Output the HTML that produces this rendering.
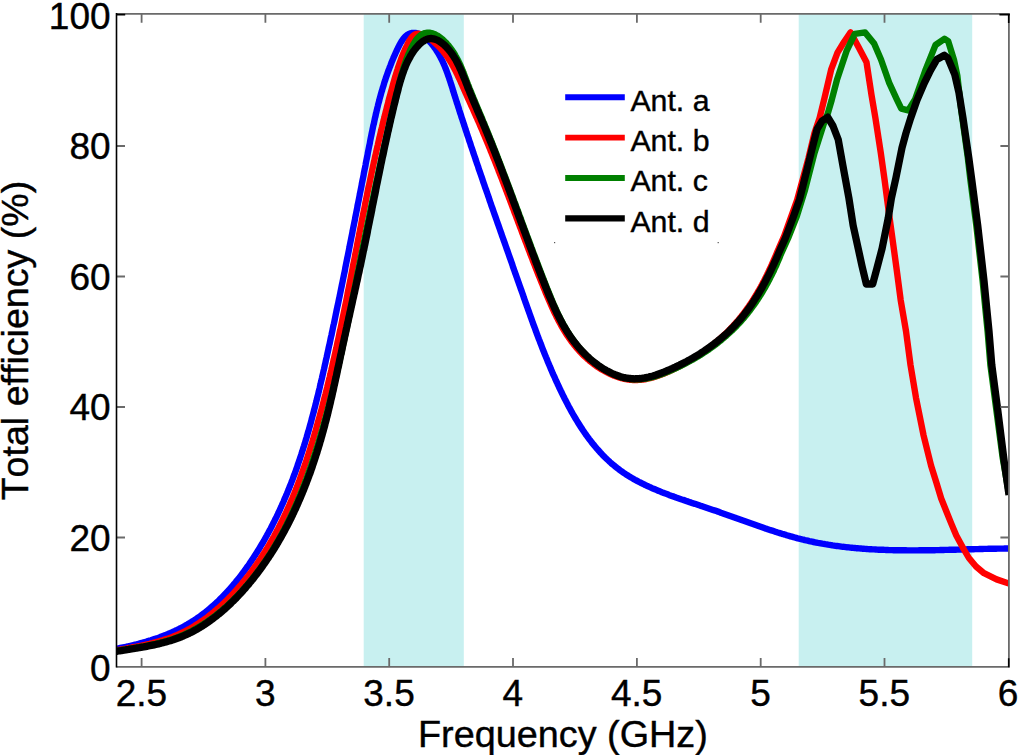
<!DOCTYPE html>
<html lang="en"><head><meta charset="utf-8"><title>Total efficiency vs Frequency</title>
<style>html,body{margin:0;padding:0;background:#fff;overflow:hidden}svg{display:block}text{font-family:"Liberation Sans",Arial,sans-serif;font-variant-ligatures:none;font-kerning:none}</style>
</head><body>
<svg width="1018" height="755" viewBox="0 0 1018 755">
<rect width="1018" height="755" fill="#ffffff"/>
<rect x="363.7" y="14.2" width="100.1" height="652.4" fill="#c8f0f0"/>
<rect x="798.7" y="14.2" width="173.5" height="652.4" fill="#c8f0f0"/>
<defs><clipPath id="c"><rect x="116.6" y="14.2" width="892.0" height="652.4"/></clipPath></defs>
<g clip-path="url(#c)" fill="none" stroke-linejoin="round" stroke-linecap="butt">
<path d="M92.0 652.6 L93.5 652.4 L95.0 652.2 L96.5 652.0 L97.9 651.8 L99.4 651.6 L100.9 651.3 L102.4 651.1 L103.9 650.9 L105.4 650.7 L106.9 650.4 L108.3 650.2 L109.8 649.9 L111.3 649.7 L112.8 649.4 L114.3 649.1 L115.8 648.9 L117.3 648.6 L118.7 648.3 L120.2 648.0 L121.7 647.7 L123.2 647.4 L124.7 647.1 L126.1 646.8 L127.6 646.5 L129.1 646.1 L130.6 645.8 L132.0 645.5 L133.5 645.1 L135.0 644.7 L136.4 644.4 L137.9 644.0 L139.3 643.6 L140.8 643.2 L142.2 642.8 L143.7 642.4 L145.1 642.0 L146.6 641.6 L148.0 641.1 L149.4 640.7 L150.9 640.3 L152.3 639.8 L153.7 639.3 L155.1 638.8 L156.6 638.4 L158.0 637.9 L159.4 637.4 L160.8 636.8 L162.2 636.3 L163.6 635.8 L164.9 635.2 L166.3 634.7 L167.7 634.1 L169.1 633.5 L170.4 633.0 L171.8 632.4 L173.1 631.7 L174.5 631.1 L175.8 630.5 L177.2 629.9 L178.5 629.2 L179.8 628.5 L181.1 627.9 L182.4 627.2 L183.7 626.5 L185.0 625.8 L186.3 625.0 L187.6 624.3 L188.9 623.5 L190.1 622.8 L191.4 622.0 L192.6 621.2 L193.9 620.4 L195.1 619.6 L196.3 618.8 L197.5 618.0 L198.8 617.1 L200.0 616.3 L201.2 615.4 L202.3 614.5 L203.5 613.6 L204.7 612.7 L205.9 611.8 L207.0 610.9 L208.2 609.9 L209.3 609.0 L210.4 608.0 L211.6 607.0 L212.7 606.1 L213.8 605.1 L214.9 604.1 L216.0 603.1 L217.1 602.0 L218.2 601.0 L219.3 600.0 L220.3 598.9 L221.4 597.9 L222.5 596.8 L223.5 595.7 L224.6 594.6 L225.6 593.6 L226.6 592.5 L227.6 591.4 L228.7 590.2 L229.7 589.1 L230.7 588.0 L231.7 586.8 L232.6 585.7 L233.6 584.5 L234.6 583.4 L235.6 582.2 L236.5 581.0 L237.5 579.9 L238.4 578.7 L239.4 577.5 L240.3 576.3 L241.2 575.1 L242.1 573.9 L243.0 572.7 L244.0 571.4 L244.9 570.2 L245.7 569.0 L246.6 567.7 L247.5 566.5 L248.4 565.3 L249.3 564.0 L250.1 562.7 L251.0 561.5 L251.8 560.2 L252.7 559.0 L253.5 557.7 L254.3 556.4 L255.2 555.1 L256.0 553.8 L256.8 552.6 L257.6 551.3 L258.4 550.0 L259.2 548.7 L260.0 547.4 L260.7 546.1 L261.5 544.8 L262.3 543.5 L263.1 542.2 L263.8 540.9 L264.6 539.5 L265.3 538.2 L266.0 536.9 L266.8 535.6 L267.5 534.3 L268.2 533.0 L268.9 531.6 L269.7 530.3 L270.4 529.0 L271.1 527.6 L271.8 526.3 L272.4 525.0 L273.1 523.6 L273.8 522.3 L274.5 521.0 L275.1 519.6 L275.8 518.3 L276.5 516.9 L277.1 515.6 L277.8 514.2 L278.4 512.9 L279.0 511.5 L279.7 510.2 L280.3 508.8 L280.9 507.4 L281.5 506.1 L282.1 504.7 L282.8 503.3 L283.4 502.0 L284.0 500.6 L284.5 499.2 L285.1 497.9 L285.7 496.5 L286.3 495.1 L286.9 493.7 L287.4 492.4 L288.0 491.0 L288.6 489.6 L289.1 488.2 L289.7 486.8 L290.2 485.4 L290.8 484.0 L291.3 482.7 L291.8 481.3 L292.4 479.9 L292.9 478.5 L293.4 477.1 L293.9 475.7 L294.5 474.3 L295.0 472.9 L295.5 471.5 L296.0 470.1 L296.5 468.7 L297.0 467.3 L297.5 465.9 L297.9 464.4 L298.4 463.0 L298.9 461.6 L299.4 460.2 L299.9 458.8 L300.3 457.4 L300.8 456.0 L301.3 454.5 L301.7 453.1 L302.2 451.7 L302.6 450.3 L303.1 448.9 L303.5 447.4 L304.0 446.0 L304.4 444.6 L304.9 443.2 L305.3 441.7 L305.7 440.3 L306.1 438.9 L306.6 437.4 L307.0 436.0 L307.4 434.6 L307.8 433.1 L308.2 431.7 L308.7 430.3 L309.1 428.8 L309.5 427.4 L309.9 425.9 L310.3 424.5 L310.7 423.1 L311.1 421.6 L311.5 420.2 L311.8 418.7 L312.2 417.3 L312.6 415.8 L313.0 414.4 L313.4 412.9 L313.8 411.5 L314.1 410.0 L314.5 408.6 L314.9 407.1 L315.3 405.7 L315.6 404.2 L316.0 402.8 L316.4 401.3 L316.7 399.9 L317.1 398.4 L317.4 397.0 L317.8 395.5 L318.2 394.1 L318.5 392.6 L318.9 391.1 L319.2 389.7 L319.6 388.2 L319.9 386.8 L320.2 385.3 L320.6 383.8 L320.9 382.4 L321.3 380.9 L321.6 379.5 L322.0 378.0 L322.3 376.5 L322.6 375.1 L323.0 373.6 L323.3 372.2 L323.6 370.7 L324.0 369.2 L324.3 367.8 L324.6 366.3 L324.9 364.8 L325.3 363.4 L325.6 361.9 L325.9 360.4 L326.2 359.0 L326.6 357.5 L326.9 356.0 L327.2 354.6 L327.5 353.1 L327.9 351.6 L328.2 350.2 L328.5 348.7 L328.8 347.2 L329.1 345.8 L329.5 344.3 L329.8 342.8 L330.1 341.4 L330.4 339.9 L330.7 338.4 L331.0 337.0 L331.4 335.5 L331.7 334.0 L332.0 332.5 L332.3 331.1 L332.6 329.6 L332.9 328.1 L333.2 326.7 L333.5 325.2 L333.9 323.7 L334.2 322.3 L334.5 320.8 L334.8 319.3 L335.1 317.9 L335.4 316.4 L335.7 314.9 L336.0 313.4 L336.3 312.0 L336.6 310.5 L336.9 309.0 L337.2 307.6 L337.5 306.1 L337.9 304.6 L338.2 303.2 L338.5 301.7 L338.8 300.2 L339.1 298.7 L339.4 297.3 L339.7 295.8 L340.0 294.3 L340.3 292.9 L340.6 291.4 L340.9 289.9 L341.2 288.4 L341.5 287.0 L341.8 285.5 L342.1 284.0 L342.4 282.6 L342.7 281.1 L343.0 279.6 L343.3 278.1 L343.6 276.7 L343.9 275.2 L344.2 273.7 L344.5 272.3 L344.8 270.8 L345.1 269.3 L345.3 267.8 L345.6 266.4 L345.9 264.9 L346.2 263.4 L346.5 261.9 L346.8 260.5 L347.1 259.0 L347.4 257.5 L347.7 256.1 L348.0 254.6 L348.3 253.1 L348.6 251.6 L348.9 250.2 L349.2 248.7 L349.5 247.2 L349.7 245.8 L350.0 244.3 L350.3 242.8 L350.6 241.3 L350.9 239.9 L351.2 238.4 L351.5 236.9 L351.8 235.4 L352.1 234.0 L352.4 232.5 L352.6 231.0 L352.9 229.6 L353.2 228.1 L353.5 226.6 L353.8 225.1 L354.1 223.7 L354.4 222.2 L354.7 220.7 L355.0 219.3 L355.2 217.8 L355.5 216.3 L355.8 214.8 L356.1 213.4 L356.4 211.9 L356.7 210.4 L357.0 209.0 L357.3 207.5 L357.5 206.0 L357.8 204.5 L358.1 203.1 L358.4 201.6 L358.7 200.1 L359.0 198.7 L359.3 197.2 L359.6 195.7 L359.8 194.2 L360.1 192.8 L360.4 191.3 L360.7 189.8 L361.0 188.4 L361.3 186.9 L361.6 185.4 L361.8 183.9 L362.1 182.5 L362.4 181.0 L362.7 179.5 L363.0 178.1 L363.3 176.6 L363.6 175.1 L363.8 173.7 L364.1 172.2 L364.4 170.7 L364.7 169.2 L365.0 167.8 L365.3 166.3 L365.6 164.8 L365.8 163.4 L366.1 161.9 L366.4 160.4 L366.7 159.0 L367.0 157.5 L367.3 156.0 L367.6 154.6 L367.8 153.1 L368.1 151.6 L368.4 150.1 L368.7 148.7 L369.0 147.2 L369.3 145.7 L369.6 144.3 L369.9 142.8 L370.1 141.3 L370.4 139.9 L370.7 138.4 L371.0 136.9 L371.3 135.5 L371.6 134.0 L371.9 132.5 L372.2 131.1 L372.5 129.6 L372.8 128.1 L373.1 126.7 L373.4 125.2 L373.8 123.8 L374.1 122.3 L374.4 120.8 L374.7 119.4 L375.0 117.9 L375.4 116.5 L375.7 115.0 L376.0 113.5 L376.4 112.1 L376.7 110.6 L377.1 109.2 L377.4 107.7 L377.8 106.2 L378.1 104.8 L378.5 103.3 L378.9 101.9 L379.3 100.4 L379.6 99.0 L380.0 97.5 L380.4 96.1 L380.8 94.6 L381.2 93.2 L381.6 91.7 L382.1 90.3 L382.5 88.8 L382.9 87.4 L383.4 86.0 L383.8 84.5 L384.2 83.1 L384.7 81.6 L385.2 80.2 L385.6 78.8 L386.1 77.3 L386.6 75.9 L387.1 74.5 L387.6 73.0 L388.1 71.6 L388.6 70.2 L389.2 68.7 L389.7 67.3 L390.3 65.9 L390.8 64.5 L391.4 63.0 L391.9 61.6 L392.5 60.2 L393.1 58.8 L393.7 57.3 L394.3 55.9 L395.0 54.5 L395.6 53.1 L396.2 51.7 L396.9 50.3 L397.5 48.9 L398.2 47.5 L398.9 46.1 L399.6 44.7 L400.3 43.4 L401.1 42.1 L401.9 40.9 L402.7 39.7 L403.5 38.6 L404.4 37.5 L405.3 36.6 L406.2 35.7 L407.2 34.9 L408.3 34.3 L409.3 33.7 L410.5 33.3 L411.6 33.0 L412.9 32.9 L414.1 32.9 L415.4 33.0 L416.8 33.2 L418.1 33.6 L419.5 34.1 L420.8 34.7 L422.2 35.4 L423.5 36.2 L424.7 37.0 L426.0 38.0 L427.2 39.0 L428.3 40.1 L429.4 41.3 L430.5 42.5 L431.5 43.7 L432.5 44.9 L433.5 46.2 L434.4 47.5 L435.3 48.7 L436.2 50.0 L437.0 51.3 L437.8 52.6 L438.6 53.9 L439.4 55.2 L440.1 56.6 L440.8 57.9 L441.5 59.2 L442.2 60.6 L442.8 61.9 L443.4 63.3 L444.0 64.7 L444.6 66.0 L445.2 67.4 L445.7 68.8 L446.3 70.2 L446.8 71.6 L447.3 73.0 L447.8 74.4 L448.3 75.8 L448.8 77.2 L449.3 78.6 L449.7 80.0 L450.2 81.4 L450.7 82.9 L451.1 84.3 L451.6 85.7 L452.0 87.1 L452.5 88.6 L452.9 90.0 L453.3 91.4 L453.8 92.8 L454.2 94.3 L454.7 95.7 L455.1 97.1 L455.6 98.5 L456.0 100.0 L456.5 101.4 L456.9 102.8 L457.4 104.2 L457.9 105.7 L458.3 107.1 L458.8 108.5 L459.2 109.9 L459.7 111.4 L460.1 112.8 L460.6 114.2 L461.1 115.6 L461.5 117.1 L462.0 118.5 L462.5 119.9 L462.9 121.3 L463.4 122.8 L463.9 124.2 L464.3 125.6 L464.8 127.0 L465.3 128.5 L465.7 129.9 L466.2 131.3 L466.7 132.7 L467.1 134.2 L467.6 135.6 L468.1 137.0 L468.6 138.4 L469.0 139.9 L469.5 141.3 L470.0 142.7 L470.5 144.1 L470.9 145.6 L471.4 147.0 L471.9 148.4 L472.4 149.8 L472.9 151.3 L473.3 152.7 L473.8 154.1 L474.3 155.5 L474.8 157.0 L475.3 158.4 L475.7 159.8 L476.2 161.2 L476.7 162.7 L477.2 164.1 L477.7 165.5 L478.2 166.9 L478.6 168.4 L479.1 169.8 L479.6 171.2 L480.1 172.6 L480.6 174.1 L481.1 175.5 L481.6 176.9 L482.1 178.3 L482.6 179.8 L483.0 181.2 L483.5 182.6 L484.0 184.0 L484.5 185.4 L485.0 186.9 L485.5 188.3 L486.0 189.7 L486.5 191.1 L487.0 192.6 L487.5 194.0 L488.0 195.4 L488.5 196.8 L489.0 198.2 L489.4 199.7 L489.9 201.1 L490.4 202.5 L490.9 203.9 L491.4 205.4 L491.9 206.8 L492.4 208.2 L492.9 209.6 L493.4 211.0 L493.9 212.5 L494.4 213.9 L494.9 215.3 L495.4 216.7 L495.9 218.1 L496.4 219.6 L496.9 221.0 L497.4 222.4 L497.9 223.8 L498.4 225.2 L498.9 226.6 L499.4 228.1 L499.9 229.5 L500.4 230.9 L500.9 232.3 L501.4 233.7 L501.9 235.2 L502.4 236.6 L502.9 238.0 L503.4 239.4 L503.9 240.8 L504.4 242.2 L504.9 243.6 L505.4 245.1 L505.9 246.5 L506.4 247.9 L506.9 249.3 L507.4 250.7 L507.9 252.1 L508.4 253.5 L508.9 255.0 L509.4 256.4 L509.9 257.8 L510.4 259.2 L510.9 260.6 L511.4 262.0 L511.9 263.4 L512.4 264.8 L512.8 266.3 L513.3 267.7 L513.8 269.1 L514.3 270.5 L514.8 271.9 L515.3 273.3 L515.8 274.7 L516.3 276.1 L516.8 277.5 L517.3 278.9 L517.8 280.3 L518.3 281.8 L518.8 283.2 L519.3 284.6 L519.8 286.0 L520.3 287.4 L520.8 288.8 L521.3 290.2 L521.8 291.6 L522.3 293.0 L522.8 294.4 L523.3 295.8 L523.7 297.2 L524.2 298.6 L524.7 300.0 L525.2 301.4 L525.7 302.8 L526.2 304.2 L526.7 305.6 L527.2 307.0 L527.7 308.4 L528.2 309.8 L528.7 311.2 L529.2 312.6 L529.7 314.0 L530.2 315.4 L530.7 316.8 L531.2 318.2 L531.7 319.6 L532.2 321.0 L532.7 322.4 L533.2 323.8 L533.7 325.2 L534.2 326.6 L534.8 328.0 L535.3 329.4 L535.8 330.8 L536.3 332.2 L536.8 333.6 L537.3 335.0 L537.9 336.4 L538.4 337.8 L538.9 339.2 L539.5 340.6 L540.0 341.9 L540.5 343.3 L541.1 344.7 L541.6 346.1 L542.1 347.5 L542.7 348.9 L543.2 350.3 L543.8 351.7 L544.3 353.1 L544.9 354.5 L545.5 355.9 L546.0 357.2 L546.6 358.6 L547.2 360.0 L547.7 361.4 L548.3 362.8 L548.9 364.2 L549.5 365.6 L550.1 366.9 L550.6 368.3 L551.2 369.7 L551.8 371.1 L552.4 372.5 L553.0 373.9 L553.6 375.2 L554.3 376.6 L554.9 378.0 L555.5 379.4 L556.1 380.8 L556.8 382.2 L557.4 383.5 L558.0 384.9 L558.7 386.3 L559.3 387.7 L560.0 389.1 L560.6 390.4 L561.3 391.8 L562.0 393.2 L562.6 394.6 L563.3 395.9 L564.0 397.3 L564.7 398.7 L565.4 400.0 L566.1 401.4 L566.8 402.8 L567.5 404.1 L568.2 405.5 L568.9 406.8 L569.7 408.2 L570.4 409.5 L571.1 410.9 L571.9 412.2 L572.6 413.5 L573.4 414.9 L574.2 416.2 L574.9 417.5 L575.7 418.8 L576.5 420.1 L577.3 421.4 L578.1 422.7 L578.9 424.0 L579.7 425.3 L580.5 426.6 L581.4 427.9 L582.2 429.1 L583.0 430.4 L583.9 431.6 L584.7 432.9 L585.6 434.1 L586.5 435.4 L587.4 436.6 L588.3 437.8 L589.1 439.0 L590.1 440.2 L591.0 441.4 L591.9 442.6 L592.8 443.7 L593.8 444.9 L594.7 446.0 L595.7 447.2 L596.6 448.3 L597.6 449.4 L598.6 450.5 L599.6 451.6 L600.5 452.7 L601.6 453.8 L602.6 454.9 L603.6 455.9 L604.6 457.0 L605.7 458.0 L606.7 459.0 L607.8 460.0 L608.9 461.0 L609.9 462.0 L611.0 463.0 L612.1 463.9 L613.3 464.9 L614.4 465.8 L615.5 466.7 L616.6 467.6 L617.8 468.5 L619.0 469.4 L620.1 470.3 L621.3 471.1 L622.5 472.0 L623.7 472.8 L624.9 473.6 L626.1 474.4 L627.4 475.2 L628.6 476.0 L629.8 476.7 L631.1 477.5 L632.4 478.2 L633.6 478.9 L634.9 479.7 L636.2 480.4 L637.5 481.1 L638.8 481.8 L640.1 482.4 L641.4 483.1 L642.7 483.8 L644.1 484.4 L645.4 485.1 L646.7 485.7 L648.1 486.3 L649.4 486.9 L650.8 487.5 L652.1 488.2 L653.5 488.7 L654.9 489.3 L656.3 489.9 L657.7 490.5 L659.0 491.1 L660.4 491.6 L661.8 492.2 L663.2 492.7 L664.6 493.3 L666.1 493.8 L667.5 494.3 L668.9 494.9 L670.3 495.4 L671.7 495.9 L673.2 496.4 L674.6 496.9 L676.0 497.5 L677.5 498.0 L678.9 498.5 L680.3 499.0 L681.8 499.5 L683.2 499.9 L684.7 500.4 L686.1 500.9 L687.6 501.4 L689.0 501.9 L690.5 502.4 L691.9 502.9 L693.4 503.4 L694.8 503.8 L696.3 504.3 L697.7 504.8 L699.2 505.3 L700.6 505.8 L702.1 506.2 L703.5 506.7 L705.0 507.2 L706.4 507.7 L707.9 508.2 L709.3 508.7 L710.8 509.2 L712.2 509.7 L713.7 510.2 L715.1 510.6 L716.5 511.1 L718.0 511.6 L719.4 512.1 L720.8 512.7 L722.3 513.2 L723.7 513.7 L725.1 514.2 L726.6 514.7 L728.0 515.2 L729.4 515.7 L730.9 516.2 L732.3 516.7 L733.7 517.2 L735.1 517.7 L736.6 518.3 L738.0 518.8 L739.4 519.3 L740.8 519.8 L742.2 520.3 L743.7 520.8 L745.1 521.3 L746.5 521.8 L747.9 522.3 L749.3 522.8 L750.7 523.3 L752.2 523.8 L753.6 524.3 L755.0 524.8 L756.4 525.3 L757.8 525.8 L759.2 526.3 L760.7 526.8 L762.1 527.3 L763.5 527.8 L764.9 528.3 L766.3 528.7 L767.7 529.2 L769.2 529.7 L770.6 530.2 L772.0 530.6 L773.4 531.1 L774.8 531.6 L776.3 532.0 L777.7 532.5 L779.1 532.9 L780.5 533.3 L781.9 533.8 L783.4 534.2 L784.8 534.6 L786.2 535.1 L787.6 535.5 L789.1 535.9 L790.5 536.3 L791.9 536.7 L793.4 537.1 L794.8 537.5 L796.2 537.9 L797.7 538.3 L799.1 538.6 L800.5 539.0 L802.0 539.4 L803.4 539.7 L804.8 540.1 L806.3 540.4 L807.7 540.7 L809.2 541.1 L810.6 541.4 L812.1 541.7 L813.5 542.0 L815.0 542.3 L816.4 542.6 L817.9 542.9 L819.3 543.1 L820.8 543.4 L822.3 543.7 L823.7 543.9 L825.2 544.2 L826.7 544.4 L828.1 544.7 L829.6 544.9 L831.1 545.1 L832.5 545.4 L834.0 545.6 L835.5 545.8 L836.9 546.0 L838.4 546.2 L839.9 546.4 L841.4 546.6 L842.9 546.8 L844.3 546.9 L845.8 547.1 L847.3 547.3 L848.8 547.4 L850.3 547.6 L851.8 547.7 L853.2 547.9 L854.7 548.0 L856.2 548.2 L857.7 548.3 L859.2 548.4 L860.7 548.5 L862.2 548.7 L863.7 548.8 L865.2 548.9 L866.7 549.0 L868.2 549.1 L869.7 549.2 L871.2 549.3 L872.7 549.4 L874.2 549.4 L875.7 549.5 L877.2 549.6 L878.7 549.7 L880.2 549.7 L881.7 549.8 L883.2 549.8 L884.7 549.9 L886.2 550.0 L887.7 550.0 L889.2 550.1 L890.7 550.1 L892.2 550.1 L893.7 550.2 L895.2 550.2 L896.7 550.2 L898.2 550.3 L899.7 550.3 L901.2 550.3 L902.7 550.3 L904.3 550.3 L905.8 550.3 L907.3 550.4 L908.8 550.4 L910.3 550.4 L911.8 550.4 L913.3 550.4 L914.8 550.4 L916.3 550.4 L917.8 550.4 L919.4 550.3 L920.9 550.3 L922.4 550.3 L923.9 550.3 L925.4 550.3 L926.9 550.3 L928.4 550.2 L929.9 550.2 L931.4 550.2 L933.0 550.2 L934.5 550.2 L936.0 550.1 L937.5 550.1 L939.0 550.1 L940.5 550.0 L942.0 550.0 L943.5 550.0 L945.0 549.9 L946.5 549.9 L948.0 549.9 L949.6 549.8 L951.1 549.8 L952.6 549.7 L954.1 549.7 L955.6 549.7 L957.1 549.6 L958.6 549.6 L960.1 549.6 L961.6 549.5 L963.1 549.5 L964.6 549.4 L966.1 549.4 L967.6 549.3 L969.1 549.3 L970.6 549.3 L972.1 549.2 L973.6 549.2 L975.1 549.1 L976.6 549.1 L978.1 549.1 L979.6 549.0 L981.1 549.0 L982.6 549.0 L984.1 548.9 L985.6 548.9 L987.1 548.9 L988.6 548.8 L990.0 548.8 L991.5 548.8 L993.0 548.7 L994.5 548.7 L996.0 548.7 L997.5 548.6 L999.0 548.6 L1000.4 548.6 L1001.9 548.6 L1003.4 548.6 L1004.9 548.5 L1006.4 548.5 L1007.8 548.5 L1009.0 548.5" stroke="#0000ff" stroke-width="6.4"/>
<path d="M92.0 654.4 L93.5 654.1 L94.9 653.8 L96.4 653.6 L97.8 653.3 L99.3 653.0 L100.8 652.8 L102.3 652.5 L103.7 652.3 L105.2 652.0 L106.7 651.8 L108.2 651.5 L109.6 651.3 L111.1 651.0 L112.6 650.8 L114.1 650.5 L115.6 650.3 L117.1 650.1 L118.6 649.8 L120.1 649.6 L121.5 649.3 L123.0 649.1 L124.5 648.8 L126.0 648.6 L127.5 648.3 L129.0 648.0 L130.5 647.8 L132.0 647.5 L133.4 647.2 L134.9 646.9 L136.4 646.7 L137.9 646.4 L139.4 646.1 L140.8 645.8 L142.3 645.5 L143.8 645.1 L145.3 644.8 L146.7 644.5 L148.2 644.1 L149.7 643.8 L151.1 643.4 L152.6 643.1 L154.0 642.7 L155.5 642.3 L156.9 641.9 L158.3 641.5 L159.8 641.1 L161.2 640.7 L162.6 640.3 L164.0 639.8 L165.5 639.3 L166.9 638.9 L168.3 638.4 L169.7 637.9 L171.1 637.4 L172.5 636.9 L173.8 636.3 L175.2 635.8 L176.6 635.2 L177.9 634.6 L179.3 634.0 L180.6 633.4 L182.0 632.8 L183.3 632.1 L184.7 631.5 L186.0 630.8 L187.3 630.1 L188.6 629.4 L189.9 628.7 L191.2 627.9 L192.5 627.2 L193.8 626.4 L195.0 625.6 L196.3 624.8 L197.5 624.0 L198.8 623.2 L200.0 622.4 L201.3 621.5 L202.5 620.7 L203.7 619.8 L205.0 618.9 L206.2 618.1 L207.4 617.2 L208.6 616.2 L209.7 615.3 L210.9 614.4 L212.1 613.4 L213.3 612.5 L214.4 611.5 L215.6 610.5 L216.7 609.5 L217.9 608.5 L219.0 607.5 L220.1 606.5 L221.2 605.5 L222.3 604.5 L223.5 603.4 L224.5 602.4 L225.6 601.3 L226.7 600.3 L227.8 599.2 L228.9 598.1 L229.9 597.0 L231.0 595.9 L232.0 594.8 L233.1 593.7 L234.1 592.6 L235.1 591.5 L236.1 590.3 L237.1 589.2 L238.1 588.0 L239.1 586.9 L240.1 585.7 L241.1 584.6 L242.1 583.4 L243.0 582.3 L244.0 581.1 L245.0 579.9 L245.9 578.7 L246.8 577.5 L247.8 576.4 L248.7 575.2 L249.6 574.0 L250.5 572.8 L251.4 571.6 L252.3 570.4 L253.2 569.1 L254.1 567.9 L254.9 566.7 L255.8 565.5 L256.7 564.3 L257.5 563.0 L258.4 561.8 L259.2 560.5 L260.1 559.3 L260.9 558.1 L261.7 556.8 L262.5 555.6 L263.3 554.3 L264.1 553.0 L264.9 551.8 L265.7 550.5 L266.5 549.2 L267.3 548.0 L268.0 546.7 L268.8 545.4 L269.6 544.1 L270.3 542.8 L271.1 541.5 L271.8 540.2 L272.5 539.0 L273.3 537.7 L274.0 536.4 L274.7 535.0 L275.4 533.7 L276.1 532.4 L276.8 531.1 L277.5 529.8 L278.2 528.5 L278.9 527.1 L279.6 525.8 L280.3 524.5 L280.9 523.2 L281.6 521.8 L282.2 520.5 L282.9 519.1 L283.5 517.8 L284.2 516.5 L284.8 515.1 L285.5 513.8 L286.1 512.4 L286.7 511.1 L287.3 509.7 L287.9 508.3 L288.6 507.0 L289.2 505.6 L289.8 504.2 L290.3 502.9 L290.9 501.5 L291.5 500.1 L292.1 498.8 L292.7 497.4 L293.3 496.0 L293.8 494.6 L294.4 493.2 L294.9 491.8 L295.5 490.5 L296.0 489.1 L296.6 487.7 L297.1 486.3 L297.7 484.9 L298.2 483.5 L298.7 482.1 L299.3 480.7 L299.8 479.3 L300.3 477.9 L300.8 476.5 L301.3 475.1 L301.8 473.6 L302.3 472.2 L302.8 470.8 L303.3 469.4 L303.8 468.0 L304.3 466.6 L304.8 465.2 L305.3 463.7 L305.8 462.3 L306.3 460.9 L306.7 459.5 L307.2 458.0 L307.7 456.6 L308.1 455.2 L308.6 453.8 L309.0 452.3 L309.5 450.9 L310.0 449.5 L310.4 448.0 L310.8 446.6 L311.3 445.2 L311.7 443.7 L312.2 442.3 L312.6 440.9 L313.0 439.4 L313.5 438.0 L313.9 436.5 L314.3 435.1 L314.7 433.6 L315.2 432.2 L315.6 430.8 L316.0 429.3 L316.4 427.9 L316.8 426.4 L317.2 425.0 L317.6 423.5 L318.0 422.1 L318.4 420.6 L318.8 419.2 L319.2 417.8 L319.6 416.3 L320.0 414.9 L320.4 413.4 L320.8 412.0 L321.2 410.5 L321.6 409.1 L322.0 407.6 L322.4 406.2 L322.7 404.7 L323.1 403.2 L323.5 401.8 L323.9 400.3 L324.2 398.9 L324.6 397.4 L325.0 396.0 L325.4 394.5 L325.7 393.1 L326.1 391.6 L326.5 390.2 L326.8 388.7 L327.2 387.2 L327.5 385.8 L327.9 384.3 L328.3 382.9 L328.6 381.4 L329.0 380.0 L329.3 378.5 L329.7 377.0 L330.0 375.6 L330.4 374.1 L330.7 372.7 L331.0 371.2 L331.4 369.7 L331.7 368.3 L332.1 366.8 L332.4 365.4 L332.7 363.9 L333.1 362.4 L333.4 361.0 L333.7 359.5 L334.1 358.1 L334.4 356.6 L334.7 355.1 L335.1 353.7 L335.4 352.2 L335.7 350.7 L336.0 349.3 L336.4 347.8 L336.7 346.3 L337.0 344.9 L337.3 343.4 L337.6 341.9 L338.0 340.5 L338.3 339.0 L338.6 337.6 L338.9 336.1 L339.2 334.6 L339.5 333.2 L339.8 331.7 L340.1 330.2 L340.5 328.8 L340.8 327.3 L341.1 325.8 L341.4 324.3 L341.7 322.9 L342.0 321.4 L342.3 319.9 L342.6 318.5 L342.9 317.0 L343.2 315.5 L343.5 314.1 L343.8 312.6 L344.1 311.1 L344.4 309.7 L344.7 308.2 L345.0 306.7 L345.3 305.2 L345.6 303.8 L345.9 302.3 L346.2 300.8 L346.5 299.4 L346.8 297.9 L347.1 296.4 L347.4 295.0 L347.6 293.5 L347.9 292.0 L348.2 290.5 L348.5 289.1 L348.8 287.6 L349.1 286.1 L349.4 284.7 L349.7 283.2 L350.0 281.7 L350.3 280.2 L350.6 278.8 L350.8 277.3 L351.1 275.8 L351.4 274.4 L351.7 272.9 L352.0 271.4 L352.3 269.9 L352.6 268.5 L352.8 267.0 L353.1 265.5 L353.4 264.0 L353.7 262.6 L354.0 261.1 L354.3 259.6 L354.6 258.2 L354.9 256.7 L355.1 255.2 L355.4 253.7 L355.7 252.3 L356.0 250.8 L356.3 249.3 L356.6 247.8 L356.9 246.4 L357.1 244.9 L357.4 243.4 L357.7 242.0 L358.0 240.5 L358.3 239.0 L358.6 237.5 L358.9 236.1 L359.1 234.6 L359.4 233.1 L359.7 231.7 L360.0 230.2 L360.3 228.7 L360.6 227.2 L360.9 225.8 L361.2 224.3 L361.4 222.8 L361.7 221.3 L362.0 219.9 L362.3 218.4 L362.6 216.9 L362.9 215.5 L363.2 214.0 L363.5 212.5 L363.8 211.0 L364.1 209.6 L364.4 208.1 L364.7 206.6 L365.0 205.2 L365.2 203.7 L365.5 202.2 L365.8 200.8 L366.1 199.3 L366.4 197.8 L366.7 196.3 L367.0 194.9 L367.3 193.4 L367.6 191.9 L367.9 190.5 L368.2 189.0 L368.5 187.5 L368.8 186.1 L369.2 184.6 L369.5 183.1 L369.8 181.7 L370.1 180.2 L370.4 178.7 L370.7 177.3 L371.0 175.8 L371.3 174.3 L371.6 172.9 L371.9 171.4 L372.2 169.9 L372.6 168.5 L372.9 167.0 L373.2 165.5 L373.5 164.1 L373.8 162.6 L374.2 161.1 L374.5 159.7 L374.8 158.2 L375.1 156.7 L375.4 155.3 L375.8 153.8 L376.1 152.3 L376.4 150.9 L376.8 149.4 L377.1 148.0 L377.4 146.5 L377.8 145.0 L378.1 143.6 L378.4 142.1 L378.8 140.7 L379.1 139.2 L379.4 137.7 L379.8 136.3 L380.1 134.8 L380.5 133.4 L380.8 131.9 L381.2 130.4 L381.5 129.0 L381.9 127.5 L382.2 126.1 L382.6 124.6 L382.9 123.1 L383.3 121.7 L383.6 120.2 L384.0 118.8 L384.4 117.3 L384.7 115.9 L385.1 114.4 L385.5 113.0 L385.8 111.5 L386.2 110.0 L386.6 108.6 L386.9 107.1 L387.3 105.7 L387.7 104.2 L388.1 102.8 L388.5 101.3 L388.8 99.9 L389.2 98.4 L389.6 97.0 L390.0 95.5 L390.4 94.1 L390.8 92.6 L391.2 91.2 L391.6 89.7 L392.0 88.3 L392.4 86.8 L392.8 85.4 L393.2 83.9 L393.6 82.5 L394.0 81.1 L394.4 79.6 L394.8 78.2 L395.2 76.7 L395.7 75.3 L396.1 73.8 L396.6 72.4 L397.0 71.0 L397.5 69.5 L397.9 68.1 L398.4 66.7 L398.9 65.3 L399.4 63.8 L399.9 62.4 L400.4 61.0 L400.9 59.6 L401.4 58.2 L402.0 56.8 L402.5 55.4 L403.1 54.0 L403.7 52.6 L404.3 51.2 L404.9 49.8 L405.6 48.4 L406.2 47.0 L406.9 45.6 L407.5 44.3 L408.2 42.9 L408.9 41.5 L409.7 40.2 L410.5 39.0 L411.3 37.8 L412.1 36.8 L413.0 35.8 L414.0 35.1 L415.0 34.4 L416.1 34.0 L417.3 33.8 L418.5 33.8 L419.8 34.0 L421.1 34.3 L422.4 34.8 L423.8 35.4 L425.1 36.0 L426.5 36.7 L427.8 37.5 L429.1 38.4 L430.4 39.2 L431.7 40.2 L432.9 41.1 L434.1 42.2 L435.3 43.2 L436.5 44.3 L437.7 45.4 L438.8 46.5 L439.9 47.7 L440.9 48.8 L442.0 50.0 L443.0 51.2 L443.9 52.4 L444.9 53.6 L445.8 54.8 L446.7 56.0 L447.6 57.3 L448.4 58.5 L449.2 59.8 L450.0 61.0 L450.8 62.3 L451.6 63.6 L452.3 64.9 L453.0 66.1 L453.7 67.4 L454.4 68.7 L455.1 70.0 L455.8 71.4 L456.4 72.7 L457.1 74.0 L457.7 75.3 L458.3 76.7 L458.9 78.0 L459.6 79.3 L460.2 80.7 L460.8 82.0 L461.4 83.4 L462.0 84.7 L462.6 86.1 L463.2 87.4 L463.8 88.8 L464.4 90.2 L465.0 91.5 L465.6 92.9 L466.2 94.2 L466.8 95.6 L467.4 97.0 L468.0 98.3 L468.7 99.7 L469.3 101.1 L469.9 102.4 L470.5 103.8 L471.1 105.2 L471.7 106.6 L472.4 107.9 L473.0 109.3 L473.6 110.7 L474.2 112.1 L474.8 113.4 L475.4 114.8 L476.0 116.2 L476.7 117.6 L477.3 119.0 L477.9 120.4 L478.5 121.7 L479.1 123.1 L479.7 124.5 L480.3 125.9 L480.9 127.3 L481.5 128.7 L482.1 130.0 L482.7 131.4 L483.2 132.8 L483.8 134.2 L484.4 135.6 L485.0 137.0 L485.6 138.4 L486.2 139.8 L486.7 141.1 L487.3 142.5 L487.9 143.9 L488.5 145.3 L489.0 146.7 L489.6 148.1 L490.2 149.5 L490.7 150.9 L491.3 152.3 L491.9 153.7 L492.4 155.0 L493.0 156.4 L493.5 157.8 L494.1 159.2 L494.7 160.6 L495.2 162.0 L495.8 163.4 L496.3 164.8 L496.9 166.2 L497.4 167.6 L498.0 169.0 L498.5 170.4 L499.0 171.8 L499.6 173.2 L500.1 174.6 L500.7 176.0 L501.2 177.3 L501.8 178.7 L502.3 180.1 L502.8 181.5 L503.4 182.9 L503.9 184.3 L504.4 185.7 L505.0 187.1 L505.5 188.5 L506.0 189.9 L506.6 191.3 L507.1 192.7 L507.6 194.1 L508.2 195.5 L508.7 196.9 L509.2 198.3 L509.8 199.7 L510.3 201.1 L510.8 202.5 L511.4 203.9 L511.9 205.3 L512.4 206.7 L512.9 208.1 L513.5 209.5 L514.0 210.9 L514.5 212.3 L515.0 213.7 L515.6 215.1 L516.1 216.5 L516.6 217.9 L517.2 219.3 L517.7 220.7 L518.2 222.1 L518.7 223.5 L519.3 224.9 L519.8 226.3 L520.3 227.7 L520.9 229.1 L521.4 230.5 L521.9 231.9 L522.4 233.3 L523.0 234.7 L523.5 236.1 L524.0 237.5 L524.6 238.9 L525.1 240.3 L525.6 241.7 L526.2 243.1 L526.7 244.5 L527.2 245.9 L527.8 247.3 L528.3 248.7 L528.8 250.1 L529.4 251.5 L529.9 252.9 L530.4 254.3 L531.0 255.7 L531.5 257.1 L532.1 258.5 L532.6 259.9 L533.1 261.3 L533.7 262.7 L534.2 264.1 L534.8 265.5 L535.3 266.9 L535.9 268.3 L536.4 269.7 L537.0 271.1 L537.5 272.5 L538.1 273.9 L538.6 275.3 L539.2 276.7 L539.8 278.1 L540.3 279.5 L540.9 280.8 L541.4 282.2 L542.0 283.6 L542.6 285.0 L543.1 286.4 L543.7 287.8 L544.3 289.2 L544.9 290.6 L545.4 292.0 L546.0 293.4 L546.6 294.8 L547.2 296.2 L547.8 297.6 L548.4 299.0 L549.0 300.3 L549.6 301.7 L550.2 303.1 L550.8 304.5 L551.4 305.8 L552.0 307.2 L552.6 308.6 L553.3 309.9 L553.9 311.3 L554.5 312.6 L555.2 314.0 L555.9 315.3 L556.5 316.7 L557.2 318.0 L557.9 319.3 L558.6 320.7 L559.3 322.0 L560.0 323.3 L560.7 324.6 L561.4 325.9 L562.2 327.2 L562.9 328.5 L563.7 329.7 L564.5 331.0 L565.2 332.3 L566.0 333.5 L566.8 334.8 L567.7 336.0 L568.5 337.2 L569.3 338.4 L570.2 339.6 L571.0 340.8 L571.9 342.0 L572.8 343.2 L573.7 344.4 L574.7 345.5 L575.6 346.7 L576.5 347.8 L577.5 348.9 L578.5 350.0 L579.5 351.2 L580.5 352.2 L581.5 353.3 L582.6 354.4 L583.6 355.4 L584.7 356.5 L585.8 357.5 L586.9 358.5 L588.1 359.5 L589.2 360.5 L590.4 361.5 L591.6 362.4 L592.8 363.4 L594.0 364.3 L595.3 365.2 L596.5 366.1 L597.8 367.0 L599.1 367.8 L600.4 368.7 L601.7 369.5 L603.1 370.3 L604.4 371.0 L605.8 371.8 L607.1 372.5 L608.5 373.2 L609.9 373.9 L611.3 374.5 L612.7 375.1 L614.1 375.7 L615.6 376.2 L617.0 376.7 L618.4 377.2 L619.9 377.7 L621.3 378.1 L622.8 378.4 L624.2 378.8 L625.7 379.1 L627.1 379.3 L628.6 379.6 L630.0 379.7 L631.5 379.9 L632.9 380.0 L634.4 380.0 L635.8 380.0 L637.3 380.0 L638.7 379.9 L640.2 379.8 L641.6 379.7 L643.0 379.5 L644.5 379.3 L645.9 379.0 L647.3 378.7 L648.8 378.4 L650.2 378.1 L651.6 377.7 L653.0 377.3 L654.5 376.9 L655.9 376.5 L657.3 376.0 L658.7 375.5 L660.1 375.0 L661.5 374.5 L662.9 373.9 L664.3 373.4 L665.7 372.8 L667.1 372.2 L668.4 371.6 L669.8 371.0 L671.2 370.3 L672.6 369.7 L673.9 369.0 L675.3 368.4 L676.6 367.7 L678.0 367.0 L679.3 366.3 L680.7 365.6 L682.0 364.9 L683.3 364.2 L684.7 363.5 L686.0 362.8 L687.3 362.0 L688.6 361.3 L689.9 360.5 L691.2 359.7 L692.5 358.9 L693.8 358.1 L695.1 357.3 L696.4 356.5 L697.6 355.7 L698.9 354.9 L700.2 354.0 L701.4 353.2 L702.6 352.3 L703.9 351.5 L705.1 350.6 L706.3 349.7 L707.6 348.8 L708.8 347.9 L710.0 347.0 L711.2 346.1 L712.3 345.1 L713.5 344.2 L714.7 343.2 L715.8 342.3 L717.0 341.3 L718.1 340.4 L719.3 339.4 L720.4 338.4 L721.5 337.4 L722.6 336.4 L723.7 335.4 L724.8 334.3 L725.9 333.3 L727.0 332.3 L728.1 331.2 L729.1 330.1 L730.2 329.1 L731.2 328.0 L732.2 326.9 L733.2 325.8 L734.2 324.7 L735.2 323.6 L736.2 322.5 L737.2 321.4 L738.2 320.3 L739.1 319.1 L740.1 318.0 L741.0 316.8 L741.9 315.6 L742.8 314.5 L743.7 313.3 L744.6 312.1 L745.5 310.9 L746.4 309.7 L747.3 308.5 L748.1 307.3 L749.0 306.1 L749.8 304.9 L750.6 303.6 L751.5 302.4 L752.3 301.1 L753.1 299.9 L753.9 298.6 L754.7 297.4 L755.4 296.1 L756.2 294.8 L757.0 293.6 L757.7 292.3 L758.5 291.0 L759.2 289.7 L759.9 288.4 L760.7 287.1 L761.4 285.8 L762.1 284.5 L762.8 283.1 L763.5 281.8 L764.2 280.5 L764.9 279.1 L765.6 277.8 L766.2 276.5 L766.9 275.1 L767.5 273.8 L768.2 272.4 L768.8 271.1 L769.5 269.7 L770.1 268.3 L770.8 267.0 L771.4 265.6 L772.0 264.2 L772.6 262.9 L773.2 261.5 L773.8 260.1 L774.4 258.7 L775.0 257.3 L775.6 255.9 L776.2 254.5 L776.8 253.2 L777.4 251.8 L777.9 250.4 L778.5 249.0 L778.7 248.5 L784.2 236.0 L797.1 200.1 L808.5 158.0 L814.5 133.0 L819.6 118.0 L824.5 98.0 L831.3 69.1 L837.5 52.6 L844.0 42.0 L850.6 32.4 L858.5 47.0 L866.5 62.2 L871.5 95.0 L875.4 118.0 L880.8 153.0 L884.6 180.0 L888.7 211.4 L896.7 269.7 L900.7 300.2 L906.0 331.1 L910.5 365.0 L916.0 397.8 L923.6 435.5 L931.1 465.7 L936.2 482.0 L941.2 498.5 L946.2 511.0 L951.3 523.6 L956.3 535.4 L963.9 549.5 L968.9 558.0 L976.0 566.5 L984.0 573.2 L996.6 579.4 L1009.0 583.5" stroke="#ff0000" stroke-width="6.4"/>
<path d="M92.0 655.5 L93.4 655.2 L94.9 654.9 L96.3 654.6 L97.8 654.3 L99.2 654.0 L100.7 653.7 L102.2 653.4 L103.6 653.1 L105.1 652.9 L106.6 652.6 L108.0 652.4 L109.5 652.1 L111.0 651.9 L112.5 651.6 L114.0 651.4 L115.5 651.1 L116.9 650.9 L118.4 650.6 L119.9 650.4 L121.4 650.2 L122.9 649.9 L124.4 649.7 L125.9 649.4 L127.4 649.2 L128.9 649.0 L130.4 648.7 L131.9 648.5 L133.4 648.2 L134.9 648.0 L136.3 647.7 L137.8 647.4 L139.3 647.2 L140.8 646.9 L142.3 646.6 L143.8 646.4 L145.3 646.1 L146.8 645.8 L148.2 645.5 L149.7 645.2 L151.2 644.9 L152.7 644.5 L154.1 644.2 L155.6 643.9 L157.1 643.5 L158.5 643.2 L160.0 642.8 L161.4 642.4 L162.9 642.0 L164.3 641.6 L165.7 641.2 L167.2 640.8 L168.6 640.4 L170.0 639.9 L171.5 639.5 L172.9 639.0 L174.3 638.5 L175.7 638.0 L177.1 637.5 L178.5 636.9 L179.8 636.4 L181.2 635.8 L182.6 635.3 L183.9 634.7 L185.3 634.0 L186.6 633.4 L188.0 632.8 L189.3 632.1 L190.6 631.5 L192.0 630.8 L193.3 630.1 L194.6 629.4 L195.9 628.6 L197.2 627.9 L198.5 627.1 L199.8 626.4 L201.0 625.6 L202.3 624.8 L203.6 624.0 L204.8 623.2 L206.1 622.3 L207.3 621.5 L208.5 620.6 L209.8 619.8 L211.0 618.9 L212.2 618.0 L213.4 617.1 L214.6 616.2 L215.8 615.3 L217.0 614.3 L218.1 613.4 L219.3 612.4 L220.5 611.5 L221.6 610.5 L222.8 609.5 L223.9 608.5 L225.1 607.5 L226.2 606.5 L227.3 605.5 L228.4 604.5 L229.5 603.4 L230.6 602.4 L231.7 601.3 L232.8 600.3 L233.9 599.2 L234.9 598.1 L236.0 597.1 L237.1 596.0 L238.1 594.9 L239.1 593.8 L240.2 592.7 L241.2 591.6 L242.2 590.4 L243.2 589.3 L244.2 588.2 L245.2 587.1 L246.2 585.9 L247.2 584.8 L248.2 583.6 L249.1 582.5 L250.1 581.3 L251.1 580.2 L252.0 579.0 L252.9 577.8 L253.9 576.6 L254.8 575.5 L255.7 574.3 L256.6 573.1 L257.5 571.9 L258.4 570.7 L259.3 569.5 L260.2 568.3 L261.1 567.1 L261.9 565.8 L262.8 564.6 L263.7 563.4 L264.5 562.2 L265.4 560.9 L266.2 559.7 L267.0 558.5 L267.8 557.2 L268.7 556.0 L269.5 554.7 L270.3 553.5 L271.1 552.2 L271.9 551.0 L272.6 549.7 L273.4 548.4 L274.2 547.1 L275.0 545.9 L275.7 544.6 L276.5 543.3 L277.2 542.0 L278.0 540.7 L278.7 539.4 L279.4 538.1 L280.2 536.8 L280.9 535.5 L281.6 534.2 L282.3 532.9 L283.0 531.6 L283.7 530.3 L284.4 529.0 L285.1 527.6 L285.8 526.3 L286.5 525.0 L287.1 523.6 L287.8 522.3 L288.4 521.0 L289.1 519.6 L289.8 518.3 L290.4 516.9 L291.0 515.6 L291.7 514.2 L292.3 512.9 L292.9 511.5 L293.5 510.2 L294.2 508.8 L294.8 507.4 L295.4 506.1 L296.0 504.7 L296.6 503.3 L297.2 502.0 L297.8 500.6 L298.3 499.2 L298.9 497.8 L299.5 496.4 L300.1 495.1 L300.6 493.7 L301.2 492.3 L301.7 490.9 L302.3 489.5 L302.8 488.1 L303.4 486.7 L303.9 485.3 L304.5 483.9 L305.0 482.5 L305.5 481.1 L306.1 479.7 L306.6 478.3 L307.1 476.9 L307.6 475.4 L308.1 474.0 L308.6 472.6 L309.1 471.2 L309.6 469.8 L310.1 468.4 L310.6 466.9 L311.1 465.5 L311.6 464.1 L312.1 462.7 L312.5 461.2 L313.0 459.8 L313.5 458.4 L313.9 456.9 L314.4 455.5 L314.9 454.1 L315.3 452.7 L315.8 451.2 L316.2 449.8 L316.7 448.3 L317.1 446.9 L317.6 445.5 L318.0 444.0 L318.5 442.6 L318.9 441.1 L319.3 439.7 L319.7 438.3 L320.2 436.8 L320.6 435.4 L321.0 433.9 L321.4 432.5 L321.9 431.0 L322.3 429.6 L322.7 428.1 L323.1 426.7 L323.5 425.3 L323.9 423.8 L324.3 422.4 L324.7 420.9 L325.1 419.5 L325.5 418.0 L325.9 416.6 L326.3 415.1 L326.7 413.7 L327.1 412.2 L327.5 410.8 L327.8 409.3 L328.2 407.9 L328.6 406.4 L329.0 404.9 L329.4 403.5 L329.7 402.0 L330.1 400.6 L330.5 399.1 L330.8 397.7 L331.2 396.2 L331.6 394.8 L331.9 393.3 L332.3 391.9 L332.7 390.4 L333.0 388.9 L333.4 387.5 L333.7 386.0 L334.1 384.6 L334.4 383.1 L334.8 381.7 L335.1 380.2 L335.5 378.7 L335.8 377.3 L336.2 375.8 L336.5 374.4 L336.8 372.9 L337.2 371.4 L337.5 370.0 L337.8 368.5 L338.2 367.1 L338.5 365.6 L338.8 364.1 L339.2 362.7 L339.5 361.2 L339.8 359.7 L340.2 358.3 L340.5 356.8 L340.8 355.4 L341.1 353.9 L341.5 352.4 L341.8 351.0 L342.1 349.5 L342.4 348.0 L342.7 346.6 L343.0 345.1 L343.4 343.6 L343.7 342.2 L344.0 340.7 L344.3 339.3 L344.6 337.8 L344.9 336.3 L345.2 334.9 L345.5 333.4 L345.8 331.9 L346.2 330.5 L346.5 329.0 L346.8 327.5 L347.1 326.1 L347.4 324.6 L347.7 323.1 L348.0 321.7 L348.3 320.2 L348.6 318.7 L348.9 317.2 L349.2 315.8 L349.5 314.3 L349.8 312.8 L350.1 311.4 L350.4 309.9 L350.7 308.4 L351.0 307.0 L351.3 305.5 L351.6 304.0 L351.9 302.6 L352.1 301.1 L352.4 299.6 L352.7 298.2 L353.0 296.7 L353.3 295.2 L353.6 293.7 L353.9 292.3 L354.2 290.8 L354.5 289.3 L354.8 287.9 L355.1 286.4 L355.4 284.9 L355.7 283.5 L356.0 282.0 L356.2 280.5 L356.5 279.0 L356.8 277.6 L357.1 276.1 L357.4 274.6 L357.7 273.2 L358.0 271.7 L358.3 270.2 L358.6 268.8 L358.9 267.3 L359.2 265.8 L359.5 264.3 L359.8 262.9 L360.0 261.4 L360.3 259.9 L360.6 258.5 L360.9 257.0 L361.2 255.5 L361.5 254.1 L361.8 252.6 L362.1 251.1 L362.4 249.6 L362.7 248.2 L363.0 246.7 L363.3 245.2 L363.6 243.8 L363.9 242.3 L364.2 240.8 L364.5 239.4 L364.8 237.9 L365.1 236.4 L365.4 234.9 L365.7 233.5 L366.0 232.0 L366.3 230.5 L366.6 229.1 L366.9 227.6 L367.2 226.1 L367.5 224.7 L367.8 223.2 L368.1 221.7 L368.4 220.3 L368.7 218.8 L369.0 217.3 L369.3 215.9 L369.6 214.4 L369.9 212.9 L370.2 211.4 L370.5 210.0 L370.8 208.5 L371.1 207.0 L371.4 205.6 L371.7 204.1 L372.0 202.6 L372.4 201.2 L372.7 199.7 L373.0 198.2 L373.3 196.8 L373.6 195.3 L373.9 193.8 L374.2 192.4 L374.5 190.9 L374.8 189.4 L375.2 188.0 L375.5 186.5 L375.8 185.0 L376.1 183.6 L376.4 182.1 L376.7 180.6 L377.0 179.2 L377.4 177.7 L377.7 176.2 L378.0 174.8 L378.3 173.3 L378.6 171.8 L379.0 170.4 L379.3 168.9 L379.6 167.4 L379.9 166.0 L380.2 164.5 L380.6 163.0 L380.9 161.6 L381.2 160.1 L381.5 158.6 L381.9 157.2 L382.2 155.7 L382.5 154.2 L382.8 152.8 L383.2 151.3 L383.5 149.8 L383.8 148.4 L384.2 146.9 L384.5 145.5 L384.8 144.0 L385.2 142.5 L385.5 141.1 L385.8 139.6 L386.2 138.1 L386.5 136.7 L386.8 135.2 L387.2 133.7 L387.5 132.3 L387.8 130.8 L388.2 129.4 L388.5 127.9 L388.9 126.4 L389.2 125.0 L389.5 123.5 L389.9 122.1 L390.2 120.6 L390.6 119.1 L390.9 117.7 L391.3 116.2 L391.6 114.7 L392.0 113.3 L392.3 111.8 L392.6 110.4 L393.0 108.9 L393.3 107.4 L393.7 106.0 L394.0 104.5 L394.4 103.1 L394.8 101.6 L395.1 100.1 L395.5 98.7 L395.8 97.2 L396.2 95.8 L396.5 94.3 L396.9 92.9 L397.3 91.4 L397.6 89.9 L398.0 88.5 L398.3 87.0 L398.7 85.6 L399.1 84.1 L399.4 82.7 L399.8 81.2 L400.2 79.7 L400.6 78.3 L400.9 76.8 L401.3 75.4 L401.7 74.0 L402.1 72.5 L402.6 71.1 L403.0 69.6 L403.4 68.2 L403.9 66.8 L404.3 65.4 L404.8 63.9 L405.3 62.5 L405.8 61.1 L406.3 59.7 L406.8 58.3 L407.4 56.9 L407.9 55.5 L408.5 54.1 L409.1 52.8 L409.7 51.4 L410.4 50.0 L411.0 48.7 L411.7 47.3 L412.4 46.0 L413.1 44.7 L413.9 43.4 L414.7 42.1 L415.5 40.8 L416.3 39.6 L417.2 38.5 L418.2 37.4 L419.1 36.4 L420.2 35.5 L421.3 34.7 L422.4 34.1 L423.6 33.5 L424.8 33.1 L426.1 32.9 L427.4 32.7 L428.7 32.7 L430.1 32.8 L431.4 33.1 L432.8 33.4 L434.1 33.9 L435.4 34.5 L436.7 35.2 L438.0 35.9 L439.3 36.8 L440.5 37.7 L441.7 38.7 L443.0 39.8 L444.1 40.9 L445.3 42.0 L446.4 43.1 L447.4 44.3 L448.5 45.5 L449.4 46.7 L450.4 48.0 L451.3 49.2 L452.2 50.4 L453.1 51.7 L453.9 53.0 L454.7 54.3 L455.4 55.6 L456.2 56.9 L456.9 58.2 L457.6 59.5 L458.3 60.8 L458.9 62.2 L459.6 63.5 L460.2 64.9 L460.8 66.2 L461.4 67.6 L462.0 69.0 L462.5 70.3 L463.1 71.7 L463.6 73.1 L464.2 74.5 L464.7 75.9 L465.2 77.3 L465.8 78.7 L466.3 80.1 L466.8 81.5 L467.4 82.9 L467.9 84.3 L468.4 85.6 L469.0 87.0 L469.5 88.4 L470.1 89.8 L470.7 91.2 L471.2 92.6 L471.8 94.0 L472.4 95.4 L472.9 96.8 L473.5 98.2 L474.1 99.6 L474.7 100.9 L475.2 102.3 L475.8 103.7 L476.4 105.1 L477.0 106.5 L477.6 107.9 L478.2 109.3 L478.7 110.6 L479.3 112.0 L479.9 113.4 L480.5 114.8 L481.1 116.2 L481.7 117.6 L482.3 119.0 L482.8 120.4 L483.4 121.8 L484.0 123.1 L484.6 124.5 L485.1 125.9 L485.7 127.3 L486.3 128.7 L486.9 130.1 L487.4 131.5 L488.0 132.9 L488.6 134.3 L489.1 135.7 L489.7 137.1 L490.2 138.4 L490.8 139.8 L491.4 141.2 L491.9 142.6 L492.5 144.0 L493.0 145.4 L493.6 146.8 L494.1 148.2 L494.7 149.6 L495.2 151.0 L495.8 152.4 L496.3 153.8 L496.9 155.2 L497.4 156.6 L497.9 158.0 L498.5 159.4 L499.0 160.8 L499.6 162.2 L500.1 163.6 L500.6 165.0 L501.2 166.4 L501.7 167.8 L502.2 169.2 L502.8 170.6 L503.3 172.0 L503.8 173.4 L504.4 174.8 L504.9 176.2 L505.4 177.6 L506.0 179.0 L506.5 180.4 L507.0 181.8 L507.5 183.2 L508.1 184.6 L508.6 186.0 L509.1 187.4 L509.6 188.8 L510.2 190.2 L510.7 191.6 L511.2 193.0 L511.7 194.4 L512.3 195.8 L512.8 197.2 L513.3 198.6 L513.8 200.0 L514.3 201.4 L514.9 202.8 L515.4 204.2 L515.9 205.6 L516.4 207.0 L516.9 208.4 L517.5 209.8 L518.0 211.2 L518.5 212.6 L519.0 214.0 L519.5 215.4 L520.1 216.8 L520.6 218.2 L521.1 219.6 L521.6 221.1 L522.1 222.5 L522.7 223.9 L523.2 225.3 L523.7 226.7 L524.2 228.1 L524.7 229.5 L525.3 230.9 L525.8 232.3 L526.3 233.7 L526.8 235.1 L527.3 236.5 L527.9 237.9 L528.4 239.3 L528.9 240.7 L529.4 242.1 L530.0 243.5 L530.5 244.9 L531.0 246.3 L531.5 247.7 L532.1 249.1 L532.6 250.5 L533.1 252.0 L533.6 253.4 L534.2 254.8 L534.7 256.2 L535.2 257.6 L535.8 259.0 L536.3 260.4 L536.8 261.8 L537.4 263.2 L537.9 264.6 L538.4 266.0 L539.0 267.4 L539.5 268.8 L540.0 270.2 L540.6 271.6 L541.1 273.0 L541.7 274.4 L542.2 275.8 L542.7 277.2 L543.3 278.6 L543.8 280.0 L544.4 281.4 L544.9 282.8 L545.5 284.2 L546.0 285.6 L546.6 287.0 L547.1 288.4 L547.7 289.8 L548.3 291.2 L548.8 292.6 L549.4 294.0 L550.0 295.4 L550.5 296.8 L551.1 298.2 L551.7 299.6 L552.3 301.0 L552.9 302.4 L553.4 303.7 L554.0 305.1 L554.7 306.5 L555.3 307.9 L555.9 309.2 L556.5 310.6 L557.1 311.9 L557.8 313.3 L558.4 314.6 L559.1 316.0 L559.7 317.3 L560.4 318.6 L561.1 320.0 L561.8 321.3 L562.5 322.6 L563.2 323.9 L563.9 325.2 L564.6 326.5 L565.4 327.8 L566.1 329.1 L566.9 330.3 L567.6 331.6 L568.4 332.9 L569.2 334.1 L570.0 335.4 L570.8 336.6 L571.7 337.8 L572.5 339.0 L573.4 340.2 L574.3 341.4 L575.1 342.6 L576.0 343.8 L577.0 345.0 L577.9 346.1 L578.8 347.3 L579.8 348.4 L580.8 349.5 L581.8 350.6 L582.8 351.7 L583.8 352.8 L584.8 353.9 L585.9 355.0 L587.0 356.0 L588.1 357.1 L589.2 358.1 L590.3 359.1 L591.5 360.1 L592.7 361.1 L593.8 362.1 L595.0 363.0 L596.3 364.0 L597.5 364.9 L598.8 365.8 L600.0 366.7 L601.3 367.6 L602.6 368.4 L603.9 369.2 L605.3 370.0 L606.6 370.8 L608.0 371.6 L609.3 372.3 L610.7 373.0 L612.1 373.6 L613.5 374.3 L614.9 374.9 L616.3 375.4 L617.7 376.0 L619.1 376.5 L620.5 376.9 L621.9 377.4 L623.4 377.8 L624.8 378.1 L626.2 378.4 L627.7 378.7 L629.1 378.9 L630.6 379.1 L632.0 379.3 L633.5 379.4 L634.9 379.4 L636.3 379.4 L637.8 379.4 L639.2 379.3 L640.7 379.2 L642.1 379.1 L643.6 378.9 L645.0 378.7 L646.4 378.5 L647.9 378.2 L649.3 377.9 L650.7 377.5 L652.2 377.2 L653.6 376.8 L655.0 376.4 L656.4 375.9 L657.9 375.5 L659.3 375.0 L660.7 374.5 L662.1 374.0 L663.5 373.4 L664.9 372.9 L666.3 372.3 L667.7 371.8 L669.1 371.2 L670.5 370.6 L671.9 370.0 L673.3 369.4 L674.7 368.7 L676.1 368.1 L677.4 367.5 L678.8 366.8 L680.2 366.1 L681.5 365.5 L682.9 364.8 L684.2 364.1 L685.6 363.4 L686.9 362.7 L688.3 362.0 L689.6 361.3 L690.9 360.5 L692.2 359.8 L693.6 359.1 L694.9 358.3 L696.2 357.5 L697.5 356.8 L698.8 356.0 L700.0 355.2 L701.3 354.4 L702.6 353.6 L703.9 352.7 L705.1 351.9 L706.4 351.1 L707.6 350.2 L708.9 349.4 L710.1 348.5 L711.3 347.6 L712.5 346.8 L713.8 345.9 L715.0 345.0 L716.2 344.1 L717.3 343.2 L718.5 342.2 L719.7 341.3 L720.9 340.4 L722.0 339.4 L723.2 338.4 L724.3 337.5 L725.4 336.5 L726.6 335.5 L727.7 334.5 L728.8 333.5 L729.9 332.5 L731.0 331.5 L732.1 330.5 L733.1 329.4 L734.2 328.4 L735.2 327.3 L736.3 326.3 L737.3 325.2 L738.3 324.1 L739.4 323.0 L740.4 321.9 L741.4 320.8 L742.3 319.7 L743.3 318.6 L744.3 317.4 L745.2 316.3 L746.2 315.2 L747.1 314.0 L748.0 312.9 L748.9 311.7 L749.9 310.5 L750.7 309.3 L751.6 308.1 L752.5 306.9 L753.4 305.7 L754.2 304.5 L755.1 303.3 L755.9 302.1 L756.8 300.8 L757.6 299.6 L758.4 298.3 L759.2 297.1 L760.0 295.8 L760.8 294.6 L761.6 293.3 L762.4 292.0 L763.1 290.7 L763.9 289.4 L764.6 288.2 L765.4 286.9 L766.1 285.5 L766.8 284.2 L767.6 282.9 L768.3 281.6 L769.0 280.3 L769.7 278.9 L770.3 277.6 L771.0 276.3 L771.7 274.9 L772.4 273.6 L773.0 272.2 L773.7 270.9 L774.3 269.5 L774.9 268.1 L775.6 266.8 L776.2 265.4 L776.8 264.0 L777.4 262.6 L778.0 261.2 L778.6 259.8 L779.2 258.4 L779.8 257.0 L780.3 255.6 L780.9 254.2 L781.0 254.0 L788.0 238.5 L796.9 216.0 L805.0 190.0 L814.5 153.0 L823.8 123.9 L827.9 113.2 L831.7 100.0 L836.9 80.1 L846.5 51.2 L854.8 33.8 L865.1 32.4 L874.1 43.6 L881.0 59.5 L889.2 82.9 L896.8 99.4 L901.3 108.7 L908.2 110.4 L915.0 99.5 L925.8 69.1 L935.5 45.0 L944.4 38.8 L948.2 41.2 L954.0 60.0 L957.4 76.0 L961.2 110.0 L967.6 156.0 L970.4 180.0 L976.3 225.3 L982.6 280.7 L987.6 331.1 L990.4 365.0 L996.4 410.4 L1002.7 458.0 L1009.0 494.0" stroke="#008000" stroke-width="6.4"/>
<path d="M92.0 656.0 L93.4 655.7 L94.8 655.3 L96.3 655.0 L97.7 654.7 L99.1 654.4 L100.6 654.1 L102.0 653.8 L103.5 653.6 L104.9 653.3 L106.4 653.0 L107.8 652.8 L109.3 652.5 L110.8 652.3 L112.3 652.0 L113.8 651.8 L115.2 651.5 L116.7 651.3 L118.2 651.0 L119.7 650.8 L121.2 650.6 L122.7 650.3 L124.2 650.1 L125.7 649.9 L127.2 649.6 L128.7 649.4 L130.2 649.1 L131.7 648.9 L133.2 648.7 L134.8 648.4 L136.3 648.2 L137.8 647.9 L139.3 647.7 L140.8 647.4 L142.3 647.1 L143.8 646.9 L145.3 646.6 L146.8 646.3 L148.3 646.0 L149.8 645.7 L151.3 645.4 L152.8 645.1 L154.3 644.8 L155.7 644.5 L157.2 644.2 L158.7 643.8 L160.2 643.5 L161.6 643.1 L163.1 642.7 L164.6 642.3 L166.0 641.9 L167.5 641.5 L168.9 641.1 L170.3 640.7 L171.8 640.2 L173.2 639.8 L174.6 639.3 L176.0 638.8 L177.4 638.3 L178.8 637.8 L180.2 637.2 L181.6 636.7 L183.0 636.1 L184.3 635.5 L185.7 634.9 L187.0 634.3 L188.4 633.7 L189.7 633.0 L191.0 632.4 L192.4 631.7 L193.7 631.0 L195.0 630.3 L196.3 629.6 L197.6 628.8 L198.8 628.1 L200.1 627.3 L201.4 626.5 L202.6 625.8 L203.9 625.0 L205.1 624.1 L206.4 623.3 L207.6 622.5 L208.8 621.6 L210.0 620.8 L211.2 619.9 L212.4 619.0 L213.6 618.1 L214.8 617.2 L216.0 616.3 L217.2 615.4 L218.3 614.4 L219.5 613.5 L220.6 612.5 L221.8 611.6 L222.9 610.6 L224.0 609.6 L225.2 608.6 L226.3 607.6 L227.4 606.6 L228.5 605.5 L229.6 604.5 L230.7 603.5 L231.7 602.4 L232.8 601.4 L233.9 600.3 L234.9 599.2 L236.0 598.2 L237.0 597.1 L238.1 596.0 L239.1 594.9 L240.1 593.8 L241.2 592.7 L242.2 591.6 L243.2 590.4 L244.2 589.3 L245.2 588.2 L246.1 587.0 L247.1 585.9 L248.1 584.8 L249.1 583.6 L250.0 582.4 L251.0 581.3 L251.9 580.1 L252.9 579.0 L253.8 577.8 L254.7 576.6 L255.6 575.4 L256.6 574.2 L257.5 573.0 L258.4 571.8 L259.3 570.6 L260.2 569.4 L261.0 568.2 L261.9 567.0 L262.8 565.8 L263.6 564.6 L264.5 563.3 L265.4 562.1 L266.2 560.9 L267.0 559.6 L267.9 558.4 L268.7 557.2 L269.5 555.9 L270.4 554.7 L271.2 553.4 L272.0 552.1 L272.8 550.9 L273.6 549.6 L274.4 548.3 L275.1 547.1 L275.9 545.8 L276.7 544.5 L277.5 543.2 L278.2 541.9 L279.0 540.6 L279.7 539.3 L280.5 538.0 L281.2 536.7 L281.9 535.4 L282.7 534.1 L283.4 532.8 L284.1 531.5 L284.8 530.2 L285.5 528.8 L286.2 527.5 L286.9 526.2 L287.6 524.9 L288.3 523.5 L289.0 522.2 L289.6 520.9 L290.3 519.5 L291.0 518.2 L291.6 516.8 L292.3 515.5 L292.9 514.1 L293.6 512.8 L294.2 511.4 L294.8 510.0 L295.5 508.7 L296.1 507.3 L296.7 505.9 L297.3 504.6 L297.9 503.2 L298.5 501.8 L299.1 500.4 L299.7 499.1 L300.3 497.7 L300.9 496.3 L301.5 494.9 L302.1 493.5 L302.6 492.1 L303.2 490.7 L303.8 489.3 L304.3 487.9 L304.9 486.5 L305.4 485.1 L306.0 483.7 L306.5 482.3 L307.0 480.9 L307.6 479.5 L308.1 478.1 L308.6 476.7 L309.1 475.3 L309.7 473.9 L310.2 472.5 L310.7 471.0 L311.2 469.6 L311.7 468.2 L312.2 466.8 L312.6 465.3 L313.1 463.9 L313.6 462.5 L314.1 461.1 L314.6 459.6 L315.0 458.2 L315.5 456.8 L315.9 455.3 L316.4 453.9 L316.9 452.5 L317.3 451.0 L317.8 449.6 L318.2 448.2 L318.6 446.7 L319.1 445.3 L319.5 443.9 L319.9 442.4 L320.3 441.0 L320.8 439.5 L321.2 438.1 L321.6 436.6 L322.0 435.2 L322.4 433.8 L322.8 432.3 L323.2 430.9 L323.6 429.4 L324.0 428.0 L324.4 426.5 L324.8 425.1 L325.1 423.6 L325.5 422.2 L325.9 420.7 L326.3 419.3 L326.6 417.8 L327.0 416.4 L327.4 414.9 L327.7 413.5 L328.1 412.0 L328.4 410.6 L328.8 409.1 L329.1 407.7 L329.5 406.2 L329.8 404.8 L330.2 403.3 L330.5 401.9 L330.8 400.4 L331.2 398.9 L331.5 397.5 L331.9 396.0 L332.2 394.6 L332.5 393.1 L332.8 391.7 L333.2 390.2 L333.5 388.7 L333.8 387.3 L334.1 385.8 L334.5 384.4 L334.8 382.9 L335.1 381.5 L335.4 380.0 L335.7 378.5 L336.1 377.1 L336.4 375.6 L336.7 374.2 L337.0 372.7 L337.3 371.2 L337.6 369.8 L337.9 368.3 L338.3 366.8 L338.6 365.4 L338.9 363.9 L339.2 362.5 L339.5 361.0 L339.8 359.5 L340.1 358.1 L340.4 356.6 L340.7 355.1 L341.1 353.7 L341.4 352.2 L341.7 350.7 L342.0 349.3 L342.3 347.8 L342.6 346.3 L342.9 344.9 L343.2 343.4 L343.6 341.9 L343.9 340.5 L344.2 339.0 L344.5 337.5 L344.8 336.1 L345.2 334.6 L345.5 333.1 L345.8 331.7 L346.1 330.2 L346.4 328.7 L346.8 327.3 L347.1 325.8 L347.4 324.3 L347.7 322.8 L348.1 321.4 L348.4 319.9 L348.7 318.4 L349.0 317.0 L349.4 315.5 L349.7 314.0 L350.0 312.6 L350.3 311.1 L350.7 309.6 L351.0 308.1 L351.3 306.7 L351.6 305.2 L352.0 303.7 L352.3 302.3 L352.6 300.8 L352.9 299.3 L353.3 297.8 L353.6 296.4 L353.9 294.9 L354.3 293.4 L354.6 292.0 L354.9 290.5 L355.2 289.0 L355.6 287.6 L355.9 286.1 L356.2 284.6 L356.5 283.1 L356.8 281.7 L357.2 280.2 L357.5 278.7 L357.8 277.3 L358.1 275.8 L358.4 274.3 L358.8 272.8 L359.1 271.4 L359.4 269.9 L359.7 268.4 L360.0 267.0 L360.4 265.5 L360.7 264.0 L361.0 262.6 L361.3 261.1 L361.6 259.6 L361.9 258.2 L362.2 256.7 L362.5 255.2 L362.8 253.8 L363.1 252.3 L363.4 250.8 L363.8 249.4 L364.1 247.9 L364.4 246.4 L364.7 245.0 L365.0 243.5 L365.3 242.0 L365.6 240.6 L365.9 239.1 L366.2 237.6 L366.5 236.2 L366.8 234.7 L367.1 233.2 L367.4 231.8 L367.6 230.3 L367.9 228.8 L368.2 227.4 L368.5 225.9 L368.8 224.5 L369.1 223.0 L369.4 221.5 L369.7 220.1 L370.0 218.6 L370.3 217.1 L370.6 215.7 L370.9 214.2 L371.2 212.7 L371.5 211.3 L371.8 209.8 L372.0 208.3 L372.3 206.9 L372.6 205.4 L372.9 204.0 L373.2 202.5 L373.5 201.0 L373.8 199.6 L374.1 198.1 L374.4 196.6 L374.7 195.2 L375.0 193.7 L375.3 192.2 L375.6 190.8 L375.8 189.3 L376.1 187.9 L376.4 186.4 L376.7 184.9 L377.0 183.5 L377.3 182.0 L377.6 180.5 L377.9 179.1 L378.2 177.6 L378.5 176.1 L378.8 174.7 L379.1 173.2 L379.4 171.7 L379.7 170.3 L380.0 168.8 L380.3 167.4 L380.6 165.9 L380.9 164.4 L381.2 163.0 L381.5 161.5 L381.8 160.0 L382.1 158.6 L382.4 157.1 L382.8 155.6 L383.1 154.2 L383.4 152.7 L383.7 151.2 L384.0 149.8 L384.3 148.3 L384.6 146.8 L384.9 145.4 L385.3 143.9 L385.6 142.4 L385.9 141.0 L386.2 139.5 L386.5 138.0 L386.9 136.5 L387.2 135.1 L387.5 133.6 L387.8 132.1 L388.2 130.7 L388.5 129.2 L388.8 127.7 L389.2 126.3 L389.5 124.8 L389.8 123.3 L390.2 121.8 L390.5 120.4 L390.8 118.9 L391.2 117.4 L391.5 116.0 L391.9 114.5 L392.2 113.0 L392.6 111.5 L392.9 110.1 L393.3 108.6 L393.6 107.1 L394.0 105.6 L394.3 104.2 L394.7 102.7 L395.1 101.2 L395.4 99.7 L395.8 98.3 L396.2 96.8 L396.5 95.3 L396.9 93.8 L397.3 92.3 L397.7 90.9 L398.1 89.4 L398.4 87.9 L398.8 86.4 L399.2 85.0 L399.6 83.5 L400.0 82.0 L400.5 80.6 L400.9 79.1 L401.4 77.7 L401.8 76.2 L402.3 74.8 L402.8 73.3 L403.3 71.9 L403.8 70.5 L404.3 69.1 L404.9 67.7 L405.4 66.3 L406.0 64.9 L406.6 63.5 L407.2 62.2 L407.9 60.8 L408.6 59.5 L409.3 58.2 L410.0 56.9 L410.7 55.6 L411.5 54.3 L412.3 53.0 L413.2 51.8 L414.0 50.6 L414.9 49.4 L415.8 48.2 L416.8 47.1 L417.8 46.0 L418.8 44.9 L419.8 43.9 L420.8 43.0 L421.9 42.1 L423.0 41.3 L424.1 40.6 L425.2 40.0 L426.3 39.5 L427.5 39.1 L428.6 38.8 L429.8 38.6 L431.0 38.5 L432.2 38.6 L433.4 38.8 L434.6 39.1 L435.8 39.5 L437.0 40.0 L438.2 40.6 L439.4 41.3 L440.6 42.1 L441.8 43.0 L442.9 43.9 L444.0 44.8 L445.1 45.8 L446.2 46.9 L447.2 48.0 L448.2 49.1 L449.2 50.2 L450.1 51.4 L451.0 52.6 L451.9 53.8 L452.8 55.1 L453.6 56.3 L454.4 57.6 L455.2 58.9 L456.0 60.2 L456.7 61.6 L457.4 62.9 L458.1 64.3 L458.8 65.7 L459.5 67.1 L460.1 68.5 L460.8 69.9 L461.4 71.3 L462.0 72.8 L462.6 74.2 L463.2 75.7 L463.8 77.1 L464.4 78.6 L465.0 80.0 L465.6 81.5 L466.1 82.9 L466.7 84.4 L467.3 85.8 L467.8 87.3 L468.4 88.7 L469.0 90.1 L469.6 91.5 L470.1 93.0 L470.7 94.4 L471.3 95.8 L471.9 97.2 L472.5 98.6 L473.0 100.0 L473.6 101.4 L474.2 102.7 L474.8 104.1 L475.4 105.5 L476.0 106.9 L476.6 108.3 L477.1 109.6 L477.7 111.0 L478.3 112.4 L478.9 113.7 L479.5 115.1 L480.1 116.5 L480.7 117.8 L481.2 119.2 L481.8 120.6 L482.4 121.9 L483.0 123.3 L483.6 124.7 L484.1 126.0 L484.7 127.4 L485.3 128.8 L485.8 130.1 L486.4 131.5 L487.0 132.9 L487.5 134.3 L488.1 135.6 L488.7 137.0 L489.2 138.4 L489.8 139.8 L490.3 141.1 L490.9 142.5 L491.5 143.9 L492.0 145.3 L492.6 146.7 L493.1 148.1 L493.7 149.4 L494.2 150.8 L494.8 152.2 L495.3 153.6 L495.8 155.0 L496.4 156.4 L496.9 157.8 L497.5 159.2 L498.0 160.5 L498.6 161.9 L499.1 163.3 L499.6 164.7 L500.2 166.1 L500.7 167.5 L501.2 168.9 L501.8 170.3 L502.3 171.7 L502.8 173.1 L503.4 174.5 L503.9 175.9 L504.4 177.3 L504.9 178.7 L505.5 180.1 L506.0 181.5 L506.5 182.9 L507.1 184.3 L507.6 185.7 L508.1 187.1 L508.6 188.5 L509.2 189.9 L509.7 191.3 L510.2 192.7 L510.7 194.1 L511.2 195.5 L511.8 196.9 L512.3 198.3 L512.8 199.8 L513.3 201.2 L513.8 202.6 L514.4 204.0 L514.9 205.4 L515.4 206.8 L515.9 208.2 L516.4 209.6 L517.0 211.0 L517.5 212.4 L518.0 213.8 L518.5 215.2 L519.0 216.7 L519.6 218.1 L520.1 219.5 L520.6 220.9 L521.1 222.3 L521.6 223.7 L522.2 225.1 L522.7 226.5 L523.2 227.9 L523.7 229.3 L524.2 230.8 L524.8 232.2 L525.3 233.6 L525.8 235.0 L526.3 236.4 L526.9 237.8 L527.4 239.2 L527.9 240.6 L528.4 242.0 L529.0 243.5 L529.5 244.9 L530.0 246.3 L530.5 247.7 L531.1 249.1 L531.6 250.5 L532.1 251.9 L532.6 253.3 L533.2 254.7 L533.7 256.1 L534.2 257.5 L534.8 258.9 L535.3 260.4 L535.8 261.8 L536.4 263.2 L536.9 264.6 L537.4 266.0 L538.0 267.4 L538.5 268.8 L539.1 270.2 L539.6 271.6 L540.2 273.0 L540.7 274.4 L541.2 275.8 L541.8 277.2 L542.3 278.6 L542.9 280.0 L543.4 281.4 L544.0 282.8 L544.5 284.2 L545.1 285.6 L545.6 287.0 L546.2 288.4 L546.8 289.8 L547.3 291.2 L547.9 292.6 L548.5 294.0 L549.0 295.4 L549.6 296.7 L550.2 298.1 L550.8 299.5 L551.4 300.9 L552.0 302.3 L552.6 303.6 L553.2 305.0 L553.8 306.4 L554.4 307.7 L555.0 309.1 L555.7 310.4 L556.3 311.8 L556.9 313.1 L557.6 314.5 L558.3 315.8 L558.9 317.1 L559.6 318.4 L560.3 319.8 L561.0 321.1 L561.7 322.4 L562.4 323.7 L563.1 325.0 L563.9 326.2 L564.6 327.5 L565.4 328.8 L566.2 330.1 L566.9 331.3 L567.7 332.6 L568.5 333.8 L569.3 335.0 L570.2 336.3 L571.0 337.5 L571.9 338.7 L572.7 339.9 L573.6 341.1 L574.5 342.2 L575.4 343.4 L576.4 344.6 L577.3 345.7 L578.2 346.9 L579.2 348.0 L580.2 349.1 L581.2 350.2 L582.2 351.3 L583.3 352.4 L584.3 353.5 L585.4 354.5 L586.5 355.6 L587.6 356.6 L588.7 357.7 L589.8 358.7 L591.0 359.7 L592.2 360.7 L593.4 361.7 L594.6 362.6 L595.8 363.6 L597.1 364.5 L598.3 365.4 L599.6 366.3 L600.9 367.2 L602.2 368.0 L603.5 368.8 L604.9 369.6 L606.2 370.4 L607.5 371.1 L608.9 371.8 L610.3 372.5 L611.7 373.2 L613.0 373.8 L614.4 374.4 L615.8 375.0 L617.2 375.5 L618.7 376.0 L620.1 376.5 L621.5 376.9 L622.9 377.3 L624.4 377.6 L625.8 377.9 L627.2 378.1 L628.7 378.4 L630.1 378.5 L631.6 378.6 L633.0 378.7 L634.4 378.8 L635.9 378.7 L637.3 378.7 L638.7 378.6 L640.2 378.5 L641.6 378.3 L643.0 378.1 L644.5 377.9 L645.9 377.6 L647.3 377.3 L648.8 377.0 L650.2 376.6 L651.6 376.3 L653.0 375.9 L654.5 375.4 L655.9 375.0 L657.3 374.5 L658.7 374.0 L660.1 373.5 L661.5 373.0 L662.9 372.4 L664.3 371.9 L665.7 371.3 L667.1 370.7 L668.5 370.1 L669.9 369.5 L671.3 368.9 L672.7 368.3 L674.1 367.6 L675.5 367.0 L676.8 366.3 L678.2 365.7 L679.6 365.0 L680.9 364.3 L682.3 363.7 L683.6 363.0 L685.0 362.3 L686.3 361.6 L687.7 360.8 L689.0 360.1 L690.3 359.4 L691.7 358.6 L693.0 357.9 L694.3 357.1 L695.6 356.3 L696.9 355.6 L698.2 354.8 L699.5 354.0 L700.7 353.2 L702.0 352.3 L703.3 351.5 L704.5 350.7 L705.8 349.8 L707.0 349.0 L708.3 348.1 L709.5 347.2 L710.7 346.4 L711.9 345.5 L713.2 344.6 L714.4 343.7 L715.5 342.7 L716.7 341.8 L717.9 340.9 L719.1 339.9 L720.2 339.0 L721.4 338.0 L722.5 337.1 L723.6 336.1 L724.8 335.1 L725.9 334.1 L727.0 333.1 L728.1 332.1 L729.2 331.1 L730.2 330.0 L731.3 329.0 L732.3 327.9 L733.4 326.9 L734.4 325.8 L735.4 324.7 L736.4 323.6 L737.4 322.5 L738.4 321.4 L739.4 320.3 L740.4 319.2 L741.3 318.1 L742.3 316.9 L743.2 315.8 L744.1 314.6 L745.0 313.4 L745.9 312.3 L746.8 311.1 L747.7 309.9 L748.6 308.7 L749.5 307.5 L750.3 306.3 L751.2 305.1 L752.0 303.9 L752.8 302.6 L753.6 301.4 L754.4 300.1 L755.2 298.9 L756.0 297.6 L756.8 296.4 L757.6 295.1 L758.4 293.8 L759.1 292.5 L759.9 291.2 L760.6 290.0 L761.4 288.7 L762.1 287.4 L762.8 286.0 L763.5 284.7 L764.3 283.4 L765.0 282.1 L765.7 280.8 L766.3 279.4 L767.0 278.1 L767.7 276.8 L768.4 275.4 L769.1 274.1 L769.7 272.7 L770.4 271.4 L771.0 270.0 L771.7 268.6 L772.3 267.3 L772.9 265.9 L773.6 264.6 L774.2 263.2 L774.8 261.8 L775.5 260.4 L776.1 259.1 L776.7 257.7 L777.3 256.3 L777.9 254.9 L778.5 253.5 L779.1 252.1 L779.7 250.7 L780.0 250.0 L785.2 238.5 L793.3 217.0 L799.5 199.5 L806.5 171.6 L812.8 146.0 L817.1 129.2 L822.0 121.0 L827.7 117.2 L833.0 126.0 L838.3 139.8 L843.0 166.1 L848.9 198.1 L853.1 225.3 L858.2 248.5 L862.0 266.0 L866.3 284.0 L872.7 284.0 L877.0 268.0 L882.1 248.5 L888.3 217.8 L891.4 198.1 L895.9 178.0 L902.0 147.7 L906.0 133.0 L910.7 118.0 L917.0 100.0 L924.4 82.9 L930.5 70.5 L936.8 59.5 L944.4 55.3 L947.9 58.1 L954.8 74.6 L958.9 92.5 L963.0 118.0 L968.9 158.5 L971.8 180.0 L977.7 225.3 L984.0 280.7 L989.0 331.1 L991.8 365.0 L997.8 410.4 L1004.1 460.7 L1009.0 495.0" stroke="#000000" stroke-width="7.3"/>
</g>
<g stroke="#6a6a6a" stroke-width="1.8" fill="none" stroke-linecap="butt">
<path d="M116.5 13.9 H1009.8 M1008.9 13.9 V666.8 M116.5 666.8 H1009.8"/>
<path d="M141.6 666.8 V657.9 M141.6 13.9 V22.8"/>
<path d="M265.4 666.8 V657.9 M265.4 13.9 V22.8"/>
<path d="M389.2 666.8 V657.9 M389.2 13.9 V22.8"/>
<path d="M513.0 666.8 V657.9 M513.0 13.9 V22.8"/>
<path d="M636.9 666.8 V657.9 M636.9 13.9 V22.8"/>
<path d="M760.7 666.8 V657.9 M760.7 13.9 V22.8"/>
<path d="M884.5 666.8 V657.9 M884.5 13.9 V22.8"/>
<path d="M116.5 537.5 H125.0 M1008.9 537.5 H1000.4"/>
<path d="M116.5 407.0 H125.0 M1008.9 407.0 H1000.4"/>
<path d="M116.5 276.5 H125.0 M1008.9 276.5 H1000.4"/>
<path d="M116.5 146.0 H125.0 M1008.9 146.0 H1000.4"/>
</g>
<g stroke="#000" stroke-width="1.6" fill="none">
<path d="M116.5 13.0 V667.5999999999999"/>
<path d="M116.5 14.6 H125.2 M1009.8 14.6 H999.4"/>
<path d="M1008.6999999999999 13.9 V22.9 M1008.6999999999999 667.1999999999999 V658.1999999999999"/>
</g>
<g font-family="Liberation Sans, Arial, sans-serif" font-size="38" fill="#000" stroke="#000" stroke-width="0.4">
<text x="141.4" y="706.4" text-anchor="middle" font-size="37">2.5</text>
<text x="265.2" y="706.4" text-anchor="middle" font-size="37">3</text>
<text x="389.0" y="706.4" text-anchor="middle" font-size="37">3.5</text>
<text x="512.8" y="706.4" text-anchor="middle" font-size="37">4</text>
<text x="636.7" y="706.4" text-anchor="middle" font-size="37">4.5</text>
<text x="760.5" y="706.4" text-anchor="middle" font-size="37">5</text>
<text x="884.3" y="706.4" text-anchor="middle" font-size="37">5.5</text>
<text x="1008.1" y="706.4" text-anchor="middle" font-size="37">6</text>
<text x="110.6" y="681.2" text-anchor="end" font-size="37">0</text>
<text x="110.6" y="550.7" text-anchor="end" font-size="37">20</text>
<text x="110.6" y="420.2" text-anchor="end" font-size="37">40</text>
<text x="110.6" y="289.7" text-anchor="end" font-size="37">60</text>
<text x="110.6" y="159.2" text-anchor="end" font-size="37">80</text>
<text x="110.6" y="28.7" text-anchor="end" font-size="37">100</text>
<text x="562.9" y="746.5" text-anchor="middle" font-size="37.8">Frequency (GHz)</text>
<text transform="translate(27.9 340.6) rotate(-90)" text-anchor="middle" font-size="37.6">Total efficiency (%)</text>
</g>
<g font-family="Liberation Sans, Arial, sans-serif" font-size="30.3" fill="#000" stroke="#000" stroke-width="0.4">
<path d="M565.2 97.2 H624.8" stroke="#0000ff" stroke-width="5.9"/>
<text x="630.4" y="111.0">Ant. a</text>
<path d="M565.2 137.6 H624.8" stroke="#ff0000" stroke-width="5.9"/>
<text x="630.4" y="151.2">Ant. b</text>
<path d="M565.2 178.0 H624.8" stroke="#008000" stroke-width="5.9"/>
<text x="630.4" y="191.4">Ant. c</text>
<path d="M565.2 218.4 H624.8" stroke="#000000" stroke-width="6.2"/>
<text x="630.4" y="231.6">Ant. d</text>
</g>
<rect x="554" y="242" width="1.2" height="1.2" fill="#555"/><rect x="717.6" y="242" width="1.2" height="1.2" fill="#555"/>
</svg>
</body></html>
